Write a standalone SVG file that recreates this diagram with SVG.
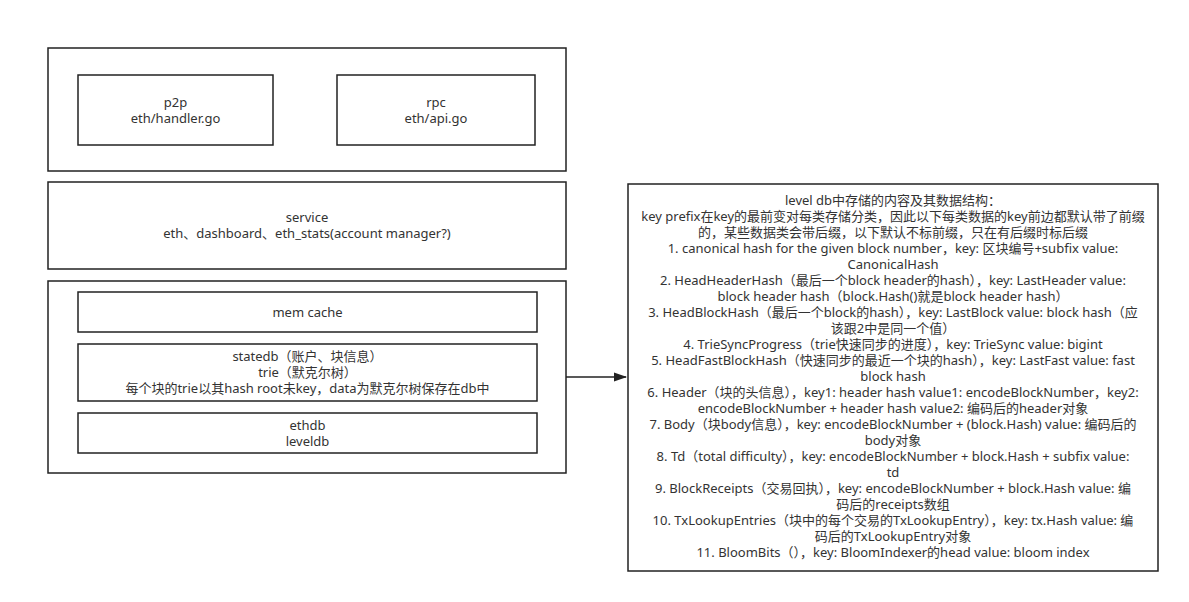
<svg xmlns="http://www.w3.org/2000/svg" width="1189" height="602" viewBox="0 0 1189 602">
<style>
.box{fill:#fff;stroke:#222;stroke-width:1.5}
.t{font-family:"Noto Sans","Noto Sans CJK SC",sans-serif;font-size:13px;fill:#333;text-anchor:middle}
.ln{stroke:#222;stroke-width:1.5;fill:none}
</style>
<defs>
<marker id="ah" markerWidth="13" markerHeight="10" refX="12" refY="5" orient="auto" markerUnits="userSpaceOnUse">
<path d="M0,0.5 L13,5 L0,9.5 Z" fill="#222"/>
</marker>
</defs>
<rect width="1189" height="602" fill="#fff"/>
<g id="top-layer">
<rect class="box" x="48" y="48" width="518" height="123"/>
</g>
<g id="p2p">
<rect class="box" x="78" y="75" width="195" height="70"/>
<text class="t" x="175.5" y="106.5">p2p</text>
<text class="t" x="175.5" y="122.5">eth/handler.go</text>
</g>
<g id="rpc">
<rect class="box" x="337" y="75" width="198" height="70"/>
<text class="t" x="436" y="106.5">rpc</text>
<text class="t" x="436" y="122.5">eth/api.go</text>
</g>
<g id="service">
<rect class="box" x="48" y="182" width="518" height="87"/>
<text class="t" x="307" y="221.5">service</text>
<text class="t" x="307" y="237.5">eth、dashboard、eth_stats(account manager?)</text>
</g>
<g id="storage">
<rect class="box" x="48" y="281" width="518" height="192"/>
</g>
<g id="memcache">
<rect class="box" x="78" y="292" width="459" height="40"/>
<text class="t" x="307.5" y="316.5">mem cache</text>
</g>
<g id="statedb">
<rect class="box" x="78" y="344" width="459" height="57"/>
<text class="t" x="307.5" y="360.5">statedb（账户、块信息）</text>
<text class="t" x="307.5" y="376.5">trie（默克尔树）</text>
<text class="t" x="307.5" y="392.5">每个块的trie以其hash root未key，data为默克尔树保存在db中</text>
</g>
<g id="ethdb">
<rect class="box" x="78" y="413" width="459" height="40"/>
<text class="t" x="307.5" y="429.5">ethdb</text>
<text class="t" x="307.5" y="445.5">leveldb</text>
</g>
<g id="connectors">
<line class="ln" x1="566" y1="377" x2="626" y2="377" marker-end="url(#ah)"/>
</g>
<g id="leveldb-contents">
<rect class="box" x="628" y="184" width="530" height="387"/>
<text class="t" x="893" y="204.5">level db中存储的内容及其数据结构：</text>
<text class="t" x="893" y="220.5">key prefix在key的最前变对每类存储分类，因此以下每类数据的key前边都默认带了前缀</text>
<text class="t" x="893" y="236.5">的，某些数据类会带后缀，以下默认不标前缀，只在有后缀时标后缀</text>
<text class="t" x="893" y="252.5">1. canonical hash for the given block number，key: 区块编号+subfix value:</text>
<text class="t" x="893" y="268.5">CanonicalHash</text>
<text class="t" x="893" y="284.5">2. HeadHeaderHash（最后一个block header的hash），key: LastHeader value:</text>
<text class="t" x="893" y="300.5">block header hash（block.Hash()就是block header hash）</text>
<text class="t" x="893" y="316.5">3. HeadBlockHash（最后一个block的hash），key: LastBlock value: block hash（应</text>
<text class="t" x="893" y="332.5">该跟2中是同一个值）</text>
<text class="t" x="893" y="348.5">4. TrieSyncProgress（trie快速同步的进度），key: TrieSync value: bigint</text>
<text class="t" x="893" y="364.5">5. HeadFastBlockHash（快速同步的最近一个块的hash），key: LastFast value: fast</text>
<text class="t" x="893" y="380.5">block hash</text>
<text class="t" x="893" y="396.5">6. Header（块的头信息），key1: header hash value1: encodeBlockNumber，key2:</text>
<text class="t" x="893" y="412.5">encodeBlockNumber + header hash value2: 编码后的header对象</text>
<text class="t" x="893" y="428.5">7. Body（块body信息），key: encodeBlockNumber + (block.Hash) value: 编码后的</text>
<text class="t" x="893" y="444.5">body对象</text>
<text class="t" x="893" y="460.5">8. Td（total difficulty），key: encodeBlockNumber + block.Hash + subfix value:</text>
<text class="t" x="893" y="476.5">td</text>
<text class="t" x="893" y="492.5">9. BlockReceipts（交易回执），key: encodeBlockNumber + block.Hash value: 编</text>
<text class="t" x="893" y="508.5">码后的receipts数组</text>
<text class="t" x="893" y="524.5">10. TxLookupEntries（块中的每个交易的TxLookupEntry），key: tx.Hash value: 编</text>
<text class="t" x="893" y="540.5">码后的TxLookupEntry对象</text>
<text class="t" x="893" y="556.5">11. BloomBits（），key: BloomIndexer的head value: bloom index</text>
</g>
</svg>
